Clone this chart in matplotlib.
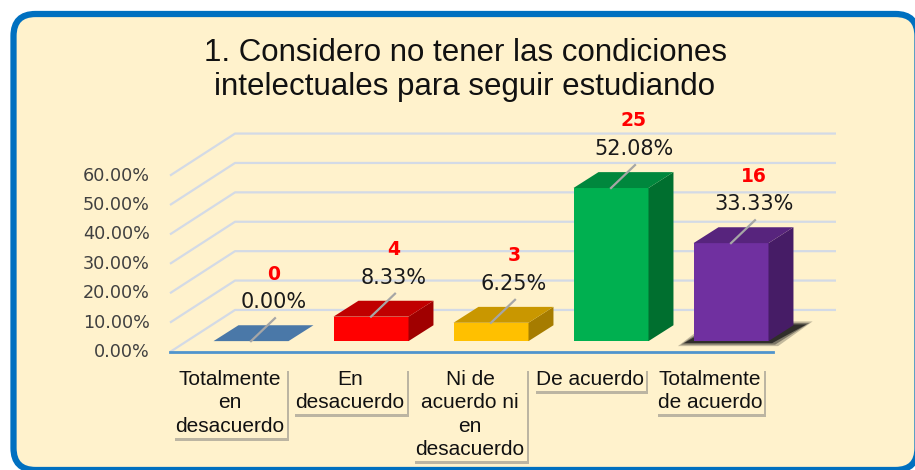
import matplotlib
matplotlib.use('Agg')
import matplotlib.pyplot as plt
from matplotlib.patches import Polygon, Rectangle, FancyBboxPatch
from matplotlib.transforms import IdentityTransform, offset_copy

# datos
categorias = ['Totalmente\nen\ndesacuerdo', 'En\ndesacuerdo', 'Ni de\nacuerdo ni\nen\ndesacuerdo',
              'De acuerdo', 'Totalmente\nde acuerdo']
conteos = [0, 4, 3, 25, 16]
porcentajes = [0.00, 8.33, 6.25, 52.08, 33.33]
ticks_y = [0, 10, 20, 30, 40, 50, 60]
titulo = '1. Considero no tener las condiciones\nintelectuales para seguir estudiando'

colores_frente = ['#44719F', '#FF0000', '#FFC000', '#00B050', '#7030A0']
colores_arriba = ['#4A78A8', '#C00000', '#C99700', '#00873D', '#57247D']
colores_lado = ['#3A6189', '#A00000', '#A67C00', '#006F2F', '#461C66']

FONDO = '#FFF2CC'
W, H = 915, 470

fig = plt.figure(figsize=(W / 100, H / 100), dpi=100)
fig.patch.set_facecolor('white')

# marco redondeado azul (en pixeles)
marco = FancyBboxPatch((13.5, 0), 904, H - 14, boxstyle='round,pad=0,rounding_size=22',
                       transform=IdentityTransform(), fc=FONDO, ec='#0070C0', lw=4.5, zorder=-5)
fig.patches.append(marco)

ax = fig.add_axes([0, 0, 1, 1])
ax.set_facecolor('none')
ax.axis('off')
# escala: categoria i en x = 230 + 120 i px, 1% = 2.94 px, 0% en y = 352 px
ax.set_xlim(-230 / 120, (W - 230) / 120)
ax.set_ylim((352 - H) / 2.94, 352 / 2.94)

# profundidad de la pared
ddx, ddy = 0.542, 14.3
x_izq, x_der_fondo, x_der_frente = -0.5, 5.05, 4.525

for v in ticks_y:
    ax.plot([x_izq, x_izq + ddx, x_der_fondo], [v, v + ddy, v + ddy],
            color='#D3DAE6', lw=1.6, zorder=1, solid_capstyle='butt')
    ax.text(-0.667, v, f'{v:.2f}%', ha='right', va='center', fontsize=12.7,
            color='#404040', family='DejaVu Sans')
ax.plot([x_izq, x_der_frente], [0, 0], color='#4F94CD', lw=2, zorder=2)

# barras 3D
bx, by = 0.175, 3.7
ancho = 0.625
sdx, sdy = 0.208, 5.4
for i, v in enumerate(porcentajes):
    x0 = i + bx - ancho / 2
    x1 = x0 + ancho
    if i == 4:
        # sombra difusa bajo la barra morada
        for ext, alfa in [(0.05, 0.25), (0.025, 0.4), (0.0, 0.7)]:
            ax.add_patch(Polygon([(x0 - 0.08 - ext, by - 0.7 - ext * 20), (x1 + 0.03 + ext, by - 0.7 - ext * 20),
                                  (x1 + sdx + 0.11 + ext, by + sdy + 0.3 + ext * 20),
                                  (x0 + sdx - 0.02 - ext, by + sdy + 0.3 + ext * 20)],
                                 closed=True, fc='#111111', ec='none', alpha=alfa, zorder=2))
    if v > 0:
        ax.add_patch(Rectangle((x0, by), ancho, v, fc=colores_frente[i], ec='none', zorder=3))
        ax.add_patch(Polygon([(x1, by), (x1 + sdx, by + sdy), (x1 + sdx, by + v + sdy), (x1, by + v)],
                             closed=True, fc=colores_lado[i], ec='none', zorder=3))
    ax.add_patch(Polygon([(x0, by + v), (x1, by + v), (x1 + sdx, by + v + sdy), (x0 + sdx, by + v + sdy)],
                         closed=True, fc=colores_arriba[i], ec='none', zorder=3))
    # linea guia y etiquetas
    cx = i + bx
    ax.plot([cx, cx + 0.2], [by + v, by + v + 7.8], color='#A6A6A6', lw=1.6, zorder=4)
    ax.text(cx + 0.19, by + v + 13.3, f'{v:.2f}%', ha='center', va='center',
            fontsize=15, color='#1a1a1a', family='DejaVu Sans', zorder=5)
    ax.text(cx + 0.19, by + v + 22.8, str(conteos[i]), ha='center', va='center',
            fontsize=13.5, color='#FF0000', fontweight='bold', family='DejaVu Sans', zorder=5)

# etiquetas de categoria en cajas con sombra
trans_sombra = offset_copy(ax.transData, fig=fig, x=2, y=-3, units='dots')
for i, cat in enumerate(categorias):
    ax.text(i, -6.0, cat, ha='center', va='top', fontsize=15, family='Liberation Sans',
            linespacing=1.3, color='none', transform=trans_sombra,
            bbox=dict(boxstyle='square,pad=0.1', fc='#7a7a7a', ec='none', alpha=0.5))
    ax.text(i, -6.0, cat, ha='center', va='top', fontsize=15, family='Liberation Sans',
            linespacing=1.3, color='#111111',
            bbox=dict(boxstyle='square,pad=0.1', fc=FONDO, ec='none'))

for k, linea in enumerate(titulo.split('\n')):
    fig.text(465 / W, 1 - (53 + 34 * k) / H, linea, ha='center', va='center', fontsize=22.5,
             family='Liberation Sans', color='#111111')

fig.savefig('out.png', dpi=100, facecolor='white')
